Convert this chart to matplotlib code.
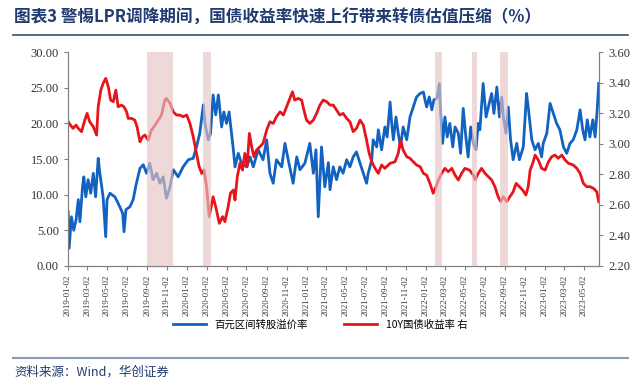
import matplotlib
matplotlib.use("Agg")
import matplotlib.pyplot as plt
import pandas as pd

plt.rcParams['font.family'] = ['Noto Sans CJK SC', 'DejaVu Sans']

# data: day offsets from 2019-01-02 and values
start = pd.Timestamp('2019-01-02')
end_day = 1627

blue_days = [1, 4, 11, 18, 25, 32, 37, 45, 49, 55, 62, 70, 78, 85, 93, 98, 108, 116, 120, 129,
             144, 154, 168, 172, 178, 190, 200, 210, 221, 231, 241, 251, 261, 272, 282, 292, 302,
             313, 323, 338, 353, 369, 384, 394, 404, 415, 420, 430, 437, 445, 453, 461, 471, 478,
             486, 494, 507, 512, 522, 532, 548, 558, 568, 583, 598, 609, 619, 629, 639, 655, 665,
             675, 690, 701, 711, 726, 741, 752, 760, 767, 777, 787, 798, 803, 813, 823, 833, 843,
             854, 864, 874, 884, 895, 905, 915, 920, 931, 935, 946, 951, 961, 971, 978, 987, 992,
             997, 1005, 1012, 1019, 1027, 1038, 1048, 1058, 1068, 1079, 1089, 1094, 1099, 1107,
             1115, 1121, 1130, 1138, 1142, 1148, 1155, 1162, 1170, 1179, 1186, 1196, 1203, 1211,
             1219, 1226, 1234, 1242, 1250, 1257, 1262, 1272, 1281, 1288, 1298, 1305, 1314, 1322,
             1329, 1334, 1342, 1349, 1356, 1364, 1375, 1383, 1395, 1405, 1410, 1421, 1431, 1441,
             1451, 1456, 1467, 1477, 1487, 1497, 1507, 1518, 1528, 1538, 1548, 1559, 1569, 1577,
             1584, 1591, 1599, 1608, 1615, 1622, 1626]
blue_vals = [7.6, 2.5, 6.9, 5.0, 6.4, 9.3, 6.2, 11.1, 12.5, 9.7, 12.1, 10.2, 13.0, 9.7, 15.1, 13.0,
             9.7, 4.1, 9.3, 10.2, 9.7, 8.8, 7.4, 4.8, 7.9, 8.3, 9.3, 11.6, 13.7, 14.2, 13.0, 14.4,
             12.1, 13.0, 11.6, 12.5, 9.5, 11.1, 13.5, 12.5, 13.9, 14.9, 15.1, 16.7, 18.6, 22.6,
             20.0, 17.7, 18.6, 24.0, 21.2, 24.0, 19.5, 21.6, 20.0, 21.6, 16.3, 13.9, 15.8, 14.4,
             13.9, 15.3, 13.9, 16.3, 14.9, 17.7, 13.0, 11.6, 14.9, 13.9, 17.2, 14.9, 11.6, 15.3,
             13.5, 14.4, 17.2, 13.0, 16.3, 6.9, 16.7, 11.1, 14.5, 10.7, 13.9, 12.1, 13.9, 13.0,
             14.9, 13.9, 15.3, 16.0, 14.4, 13.0, 11.6, 13.0, 14.9, 17.7, 16.7, 19.1, 16.3, 19.5,
             18.1, 23.0, 20.0, 17.7, 20.9, 18.6, 16.7, 19.5, 17.7, 20.9, 22.3, 23.7, 24.2, 24.4,
             23.3, 22.3, 23.7, 21.9, 23.3, 23.5, 25.6, 21.4, 17.2, 20.9, 18.1, 20.0, 16.7, 19.5,
             18.6, 15.8, 22.1, 18.1, 15.3, 19.5, 17.2, 16.3, 20.0, 19.1, 25.6, 20.9, 22.3, 24.2,
             21.4, 25.1, 20.9, 23.7, 20.9, 18.6, 22.3, 17.7, 14.9, 17.2, 14.9, 16.7, 24.2, 22.3,
             17.7, 16.3, 17.2, 15.3, 17.2, 18.6, 22.8, 21.4, 20.0, 19.1, 16.7, 15.8, 17.2, 17.7,
             19.1, 21.9, 19.1, 17.7, 20.5, 18.1, 20.5, 18.1, 22.3, 25.6]

red_days = [1, 8, 16, 25, 32, 42, 52, 59, 67, 78, 88, 93, 101, 108, 116, 124, 131, 139, 147, 154,
            164, 172, 180, 185, 195, 205, 212, 221, 229, 236, 246, 256, 267, 277, 287, 297, 302,
            313, 323, 333, 343, 353, 364, 374, 384, 394, 402, 410, 417, 425, 433, 445, 453, 464,
            474, 481, 491, 498, 507, 512, 519, 527, 535, 542, 549, 556, 563, 570, 578, 588, 598,
            609, 619, 629, 639, 650, 660, 670, 680, 688, 695, 706, 716, 723, 731, 741, 752, 762,
            772, 782, 793, 803, 813, 823, 833, 843, 854, 864, 874, 884, 895, 905, 915, 923, 931,
            941, 951, 961, 971, 987, 1002, 1012, 1019, 1027, 1038, 1048, 1058, 1068, 1079, 1089,
            1099, 1109, 1119, 1128, 1135, 1145, 1155, 1165, 1176, 1186, 1196, 1206, 1216, 1230,
            1242, 1247, 1257, 1267, 1278, 1288, 1298, 1308, 1318, 1326, 1334, 1344, 1354, 1364,
            1373, 1383, 1393, 1403, 1410, 1416, 1424, 1431, 1441, 1451, 1462, 1472, 1482, 1492,
            1502, 1513, 1523, 1533, 1548, 1559, 1569, 1579, 1589, 1599, 1610, 1620, 1626]
red_vals = [3.144, 3.122, 3.101, 3.122, 3.101, 3.079, 3.155, 3.199, 3.144, 3.111, 3.057, 3.242,
            3.351, 3.395, 3.428, 3.373, 3.286, 3.275, 3.351, 3.242, 3.253, 3.242, 3.209, 3.166,
            3.166, 3.155, 3.111, 3.013, 3.046, 3.057, 3.024, 3.090, 3.122, 3.155, 3.188, 3.286,
            3.297, 3.264, 3.209, 3.188, 3.188, 3.177, 3.188, 3.133, 3.046, 2.937, 2.850, 2.806,
            2.828, 2.719, 2.523, 2.653, 2.587, 2.479, 2.523, 2.490, 2.587, 2.676, 2.697, 2.632,
            2.784, 2.872, 2.828, 2.937, 2.850, 3.068, 2.980, 2.915, 2.959, 2.980, 3.003, 3.090,
            3.144, 3.133, 3.177, 3.209, 3.188, 3.242, 3.297, 3.340, 3.286, 3.297, 3.286, 3.221,
            3.155, 3.133, 3.155, 3.199, 3.253, 3.286, 3.275, 3.253, 3.253, 3.221, 3.188, 3.199,
            3.166, 3.144, 3.079, 3.101, 3.155, 3.122, 3.024, 2.937, 2.882, 2.839, 2.806, 2.861,
            2.839, 2.872, 2.882, 2.937, 3.024, 2.959, 2.915, 2.905, 2.882, 2.861, 2.850, 2.806,
            2.795, 2.741, 2.676, 2.719, 2.763, 2.806, 2.839, 2.817, 2.839, 2.795, 2.763, 2.806,
            2.839, 2.828, 2.795, 2.763, 2.806, 2.839, 2.806, 2.784, 2.763, 2.719, 2.653, 2.621,
            2.653, 2.621, 2.653, 2.686, 2.741, 2.719, 2.697, 2.664, 2.719, 2.828, 2.872, 2.926,
            2.894, 2.839, 2.828, 2.882, 2.915, 2.926, 2.905, 2.926, 2.894, 2.872, 2.861, 2.839,
            2.806, 2.741, 2.719, 2.719, 2.708, 2.686, 2.621]

# LPR cut periods (day offsets)
span_start = [241, 415, 1124, 1237, 1324]
span_end = [323, 440, 1147, 1252, 1347]

blue_dates = start + pd.to_timedelta(blue_days, unit='D')
red_dates = start + pd.to_timedelta(red_days, unit='D')
tick_dates = pd.date_range('2019-01-01', '2023-05-01', freq='2MS') + pd.Timedelta(days=1)

serif = 'Liberation Serif'
navy = '#1f3b70'

fig = plt.figure(figsize=(6.4, 3.86), dpi=100)
ax = fig.add_axes([0.106, 0.311, 0.83, 0.554])
ax2 = ax.twinx()

l1, = ax.plot(blue_dates, blue_vals, color='#1262c0', lw=2, label='百元区间转股溢价率')
l2, = ax2.plot(red_dates, red_vals, color='#e8141c', lw=2, label='10Y国债收益率 右')

for s, e in zip(span_start, span_end):
    ax2.axvspan(start + pd.Timedelta(days=s), start + pd.Timedelta(days=e),
                color='#e6c3c3', alpha=0.65, lw=0, zorder=5)

ax.set_xlim(start, start + pd.Timedelta(days=end_day))
ax.set_ylim(0, 30)
ax2.set_ylim(2.2, 3.6)
ax.set_yticks([0, 5, 10, 15, 20, 25, 30])
ax.set_yticklabels([f'{v:.2f}' for v in [0, 5, 10, 15, 20, 25, 30]], family=serif, fontsize=9)
ax2.set_yticks([2.2, 2.4, 2.6, 2.8, 3.0, 3.2, 3.4, 3.6])
ax2.set_yticklabels([f'{v:.2f}' for v in [2.2, 2.4, 2.6, 2.8, 3.0, 3.2, 3.4, 3.6]], family=serif, fontsize=9)
ax.set_xticks(tick_dates)
ax.set_xticklabels([d.strftime('%Y-%m-%d') for d in tick_dates], rotation=90,
                   family=serif, fontsize=6.3, color='#333333')

for a in (ax, ax2):
    a.spines['top'].set_visible(False)
    for sp in ('left', 'right', 'bottom'):
        a.spines[sp].set_color('#808080')
    a.tick_params(colors='#808080', labelcolor='#333333', length=3, width=0.8)

fig.legend(handles=[l1, l2], loc='center', bbox_to_anchor=(0.5, 0.158), ncol=2,
           frameon=False, fontsize=7.5, handlelength=3.2, columnspacing=3.5)

fig.text(0.022, 0.953, '图表3 警惕LPR调降期间，国债收益率快速上行带来转债估值压缩（%）',
         fontsize=12, fontweight='bold', color=navy, va='center')
fig.add_artist(plt.Line2D([0.02, 0.982], [0.909, 0.909], color='#3a4f75', lw=1.2))
fig.add_artist(plt.Line2D([0.02, 0.982], [0.073, 0.073], color='#8a9bb5', lw=1.5))
fig.text(0.022, 0.035, '资料来源：Wind，华创证券', fontsize=9, style='italic',
         color=navy, va='center')

fig.savefig('out.png', dpi=100)
